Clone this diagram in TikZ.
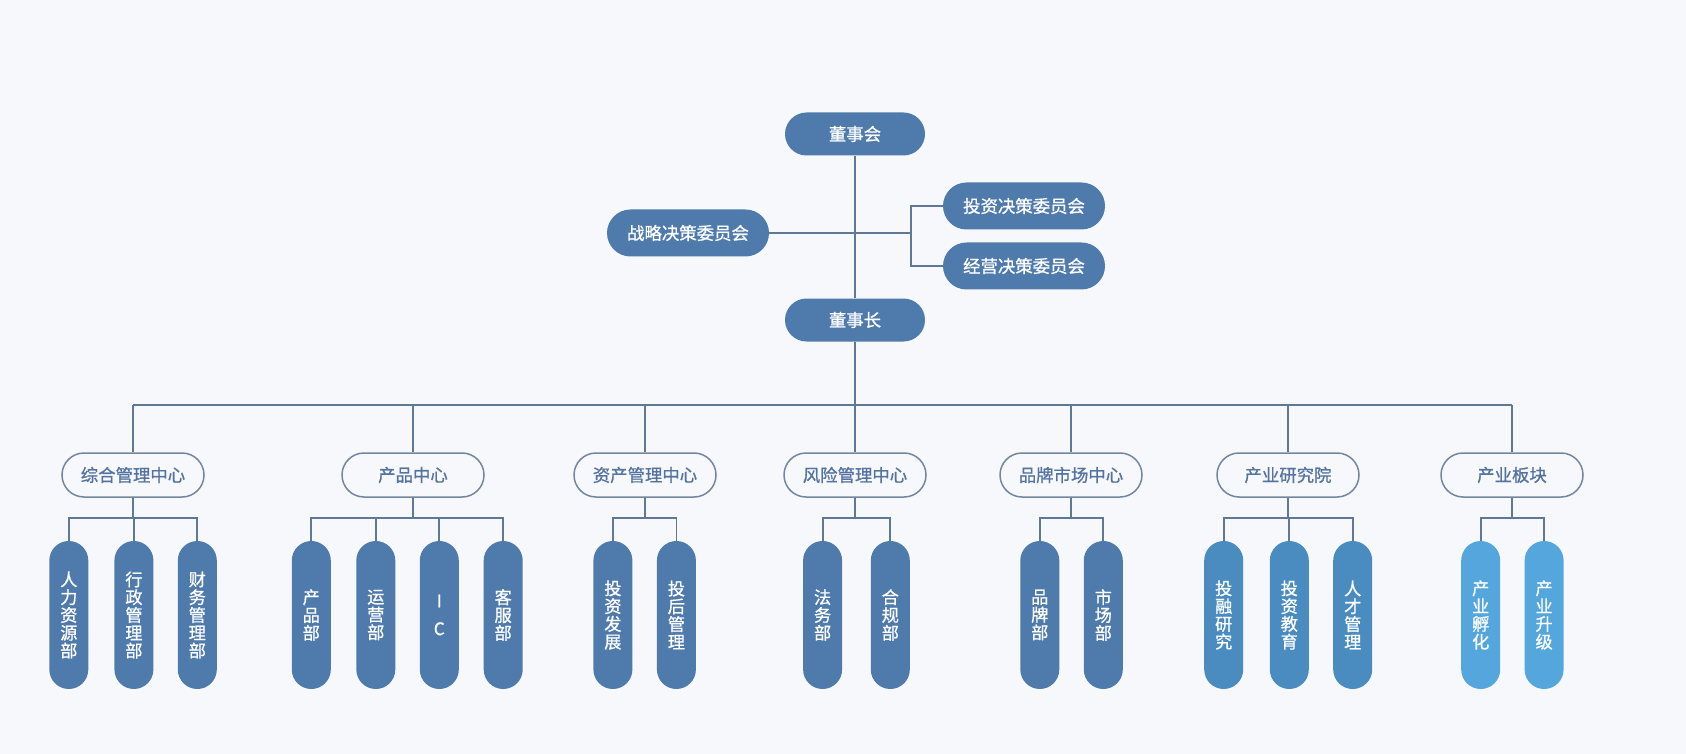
\documentclass[tikz,border=0pt]{standalone}
\usepackage{fontspec}
\newfontfamily\cjk{Noto Sans CJK SC}[FakeBold=0.9]
\usepackage{tikz}
\usetikzlibrary{positioning, calc}

\definecolor{boxblue}{HTML}{4F7BAC}
\definecolor{tealblue}{HTML}{4A8CBF}
\definecolor{skyblue}{HTML}{55A6DD}
\definecolor{linegray}{HTML}{5F7894}
\definecolor{hubedge}{HTML}{7386A0}
\definecolor{hubtext}{HTML}{5473A0}
\definecolor{bgpage}{HTML}{F7F8FC}

\begin{document}
\begin{tikzpicture}[
    x=0.5pt, y=-0.5pt,
    conn/.style={draw=linegray, line width=0.9pt},
    topbox/.style={fill=boxblue, text=white, rounded corners=10.75pt, minimum width=70pt, minimum height=21.5pt, inner sep=0pt, font=\cjk\fontsize{8.7pt}{9pt}\selectfont},
    combox/.style={topbox, minimum width=81pt, minimum height=23.5pt, rounded corners=11.75pt},
    hubbox/.style={draw=hubedge, line width=0.75pt, fill=bgpage, text=hubtext, rounded corners=11pt, minimum width=71pt, minimum height=22pt, inner sep=0pt, font=\cjk\fontsize{8.7pt}{9pt}\selectfont},
    leaf/.style={fill=boxblue, text=white, rounded corners=9.75pt, minimum width=19.5pt, minimum height=74pt, inner sep=0pt, align=center, font=\cjk\fontsize{8.6pt}{8.9pt}\selectfont},
]
% === Canvas ===
\fill[bgpage] (0,0) rectangle (1686,754);
\useasboundingbox (0,0) rectangle (1686,754);
% === Board and committees ===
\node[topbox] (dsh) at (855,134) {董事会};
\node[combox] (zl) at (688,233) {战略决策委员会};
\node[combox] (tz) at (1024,206) {投资决策委员会};
\node[combox] (jy) at (1024,266) {经营决策委员会};
\node[topbox] (dsz) at (855,320) {董事长};
\coordinate (br) at (911,233);
\coordinate (bus) at (855,405);
%
\draw[conn] (dsh.south) -- (dsz.north);
\draw[conn] (zl.east) -- (br);
\draw[conn] (tz.west) -| (br) |- (jy.west);
\draw[conn] (dsz.south) -- (bus);
% === Centers ===
\foreach \n/\x/\t in {zh/133/综合管理中心, cp/413/产品中心, zc/645/资产管理中心, fx/855/风险管理中心, pp/1071/品牌市场中心, yj/1288/产业研究院, bk/1512/产业板块} {
    \node[hubbox] (\n) at (\x,475) {\t};
    \draw[conn] (\n.north) -- (\n.north |- bus);
}
\draw[conn] (zh.north |- bus) -- (bk.north |- bus);
% === Departments ===
\foreach \i/\x/\t in {1/68.8/{人\\力\\资\\源\\部}, 2/133.9/{行\\政\\管\\理\\部}, 3/197.3/{财\\务\\管\\理\\部}} {
    \node[leaf] (zh\i) at (\x,615) {\t};
    \draw[conn] (zh.south) -- (zh.south |- 0,518) -| (zh\i.north);
}
\foreach \i/\x/\t in {1/311.3/{产\\品\\部}, 2/375.8/{运\\营\\部}, 3/439.3/{I\\[5pt]C}, 4/503.2/{客\\服\\部}} {
    \node[leaf] (cp\i) at (\x,615) {\t};
    \draw[conn] (cp.south) -- (cp.south |- 0,518) -| (cp\i.north);
}
\foreach \i/\x/\t in {1/612.9/{投\\资\\发\\展}, 2/676.4/{投\\后\\管\\理}} {
    \node[leaf] (zc\i) at (\x,615) {\t};
    \draw[conn] (zc.south) -- (zc.south |- 0,518) -| (zc\i.north);
}
\foreach \i/\x/\t in {1/822.6/{法\\务\\部}, 2/890.3/{合\\规\\部}} {
    \node[leaf] (fx\i) at (\x,615) {\t};
    \draw[conn] (fx.south) -- (fx.south |- 0,518) -| (fx\i.north);
}
\foreach \i/\x/\t in {1/1039.8/{品\\牌\\部}, 2/1103.3/{市\\场\\部}} {
    \node[leaf] (pp\i) at (\x,615) {\t};
    \draw[conn] (pp.south) -- (pp.south |- 0,518) -| (pp\i.north);
}
\foreach \i/\x/\t in {1/1223.7/{投\\融\\研\\究}, 2/1289.3/{投\\资\\教\\育}, 3/1352.7/{人\\才\\管\\理}} {
    \node[leaf, fill=tealblue] (yj\i) at (\x,615) {\t};
    \draw[conn] (yj.south) -- (yj.south |- 0,518) -| (yj\i.north);
}
\foreach \i/\x/\t in {1/1480.7/{产\\业\\孵\\化}, 2/1544.1/{产\\业\\升\\级}} {
    \node[leaf, fill=skyblue] (bk\i) at (\x,615) {\t};
    \draw[conn] (bk.south) -- (bk.south |- 0,518) -| (bk\i.north);
}
\end{tikzpicture}
\end{document}
